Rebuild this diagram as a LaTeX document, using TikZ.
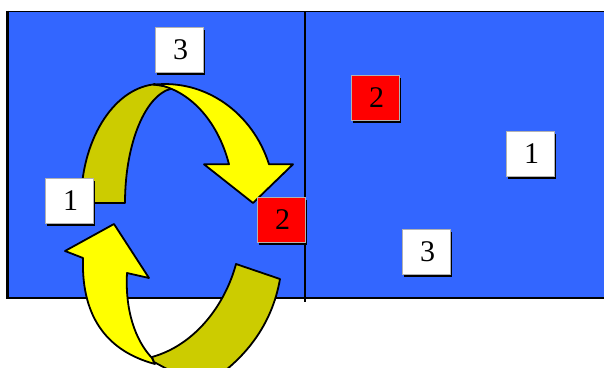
\documentclass[tikz,border=0pt]{standalone}
\usepackage{fontspec}
\setmainfont{Liberation Serif}
\usetikzlibrary{shadows}
\definecolor{panelblue}{HTML}{3366FF}
\definecolor{arrowyellow}{HTML}{FFFF00}
\definecolor{arrowolive}{HTML}{CCCC00}
\definecolor{cardred}{HTML}{FF0000}
\newcommand{\cardtext}[1]{\raisebox{-2pt}{\hspace*{3pt}#1}}
\tikzset{
  ribbon/.style={draw=black, line width=1.8pt, line join=round},
  frontband/.style={ribbon, fill=arrowyellow},
  backband/.style={ribbon, fill=arrowolive},
  card/.style={minimum width=48pt, minimum height=45pt, inner sep=0pt,
    draw=gray!60, line width=0.5pt, font=\fontsize{30}{30}\selectfont,
    drop shadow={shadow xshift=2pt, shadow yshift=-2pt, fill=black, opacity=1}},
  whitecard/.style={card, fill=white},
  redcard/.style={card, fill=cardred},
}
\begin{document}
\begin{tikzpicture}[x=1pt,y=-1pt]
\useasboundingbox (0,0) rectangle (604,367);
\clip (0,0) rectangle (604,367);
% panel
\fill[panelblue] (7,11) rectangle (604,297.5);
\draw[line width=1pt] (7,11) -- (604,11);
\draw[line width=3pt] (7.5,10.5) -- (7.5,299);
\draw[line width=2.6pt] (6,298) -- (604,298);
\draw[line width=2.4pt] (304.7,11) -- (304.7,302);
% top arrow: back part then front part
\draw[backband] (81,203) arc[start angle=180, end angle=265, x radius=79, y radius=119]
  -- (177,88) arc[start angle=270, end angle=180, x radius=52, y radius=115] -- cycle;
\draw[frontband] (153.5,84.7) arc[start angle=-96, end angle=-19, x radius=110, y radius=119]
  -- (293,164.3) -- (253,203) -- (204,164.3) -- (229,164.3)
  arc[start angle=-19, end angle=-84, x radius=89, y radius=120] -- cycle;
% bottom arrow: front part then back part
\draw[frontband] (83,258) .. controls (81,320) and (110,352) .. (155,364)
  -- (152,358) .. controls (135,340) and (125,310) .. (127,273)
  -- (149,278) -- (114,224) -- (65,251) -- cycle;
\draw[backband] (152,357) .. controls (195,345) and (225,305) .. (236,264)
  -- (280,279) .. controls (272,325) and (245,360) .. (205,385)
  -- (180,376) -- (154,362) -- cycle;
% cards
\node[whitecard] (L3) at (179,50) {\cardtext{3}};
\node[whitecard] (L1) at (69,201) {\cardtext{1}};
\node[redcard]   (L2) at (281,220) {\cardtext{2}};
\node[redcard]   (R2) at (375,98) {\cardtext{2}};
\node[whitecard] (R1) at (530,154) {\cardtext{1}};
\node[whitecard] (R3) at (426,252) {\cardtext{3}};
\end{tikzpicture}
\end{document}
